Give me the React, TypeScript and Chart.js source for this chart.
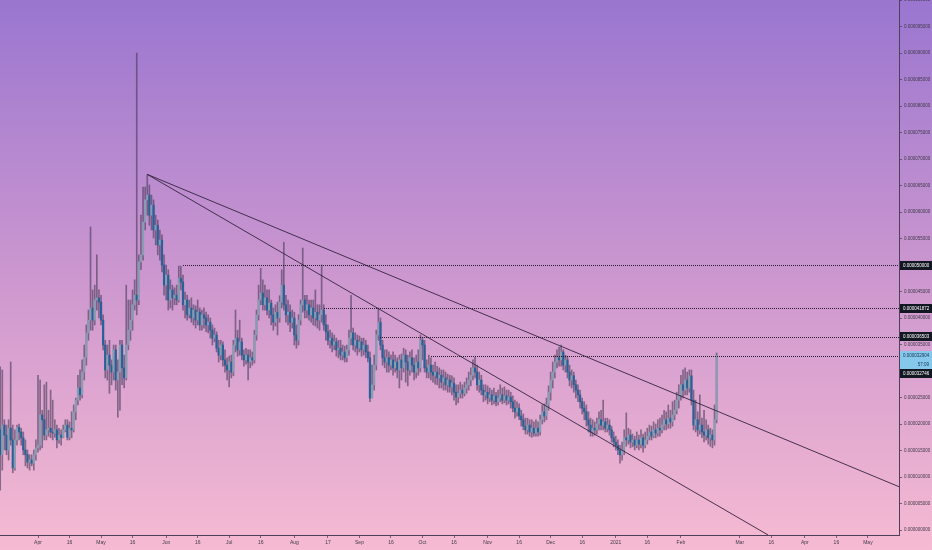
import { useEffect, useRef } from "react";
import { Chart, registerables } from "chart.js";

Chart.register(...registerables);

// Daily candles, first candle = 2020-03-14 (day -18 relative to 2020-04-01). Prices in units of 1e-6.
const firstDayOffset = -18;

const opens = [
  18.9, 14.2, 19.8, 17.9, 15.1, 19.2, 17.0, 11.7, 17.0, 19.4,
  18.5, 17.4, 15.1, 14.2, 12.8, 13.2, 12.6, 14.2, 15.5, 16.0,
  21.7, 20.8, 17.9, 18.9, 19.2, 18.5, 18.3, 18.9, 17.0, 17.9,
  17.5, 18.9, 19.8, 17.5, 19.2, 18.9, 22.3, 24.5, 26.8, 25.5,
  29.8, 32.6, 37.2, 39.6, 41.9, 39.6, 43.4, 43.8, 43.0, 39.6,
  34.9, 30.2, 33.0, 31.1, 29.8, 34.0, 28.3, 29.8, 34.9, 30.6,
  28.7, 34.9, 37.7, 39.6, 42.5, 44.3, 43.4, 50.6, 51.9, 58.1,
  62.3, 63.2, 59.4, 61.3, 56.6, 57.5, 53.8, 54.7, 50.0, 46.2,
  48.1, 43.4, 45.3, 43.8, 44.3, 43.4, 47.5, 46.8, 42.5, 43.4,
  40.6, 41.9, 40.0, 41.5, 39.6, 41.1, 38.7, 40.6, 40.0, 38.7,
  39.2, 37.7, 36.2, 36.8, 34.3, 33.0, 34.9, 32.1, 31.1, 30.2,
  31.7, 29.8, 34.9, 36.2, 34.0, 35.5, 33.0, 32.1, 33.0, 31.7,
  32.5, 32.1, 36.8, 40.6, 43.4, 44.7, 42.5, 43.8, 41.5, 42.8,
  40.6, 39.2, 41.1, 40.0, 43.0, 46.2, 42.5, 40.6, 41.1, 39.2,
  40.0, 36.8, 35.8, 39.6, 42.5, 43.4, 41.5, 42.5, 40.6, 41.9,
  40.0, 41.1, 39.6, 40.6, 41.5, 38.7, 37.4, 35.8, 36.2, 34.9,
  35.5, 34.0, 34.3, 33.0, 33.6, 32.5, 34.0, 36.2, 37.2, 34.9,
  35.8, 34.3, 35.5, 34.0, 34.9, 33.6, 32.5, 24.9, 27.4, 31.1,
  36.8, 39.2, 34.9, 32.5, 31.7, 32.5, 31.1, 32.1, 30.6, 31.7,
  30.2, 32.1, 30.6, 33.0, 31.7, 30.2, 32.5, 31.1, 29.8, 31.7,
  30.6, 35.8, 34.9, 30.6, 29.8, 31.1, 29.8, 29.2, 29.8, 28.7,
  29.2, 27.9, 28.7, 27.4, 28.3, 27.0, 27.7, 26.0, 25.1, 25.8,
  26.4, 25.8, 26.8, 27.4, 28.3, 29.2, 30.6, 29.8, 27.4, 28.3,
  26.4, 25.5, 26.0, 24.9, 25.5, 24.5, 25.3, 24.2, 24.9, 25.5,
  24.5, 25.3, 24.5, 25.1, 24.2, 23.0, 22.3, 23.0, 21.5, 20.8,
  19.6, 18.9, 19.8, 18.5, 19.2, 18.3, 19.2, 18.5, 20.8, 22.3,
  21.5, 23.6, 26.0, 28.3, 29.8, 31.7, 32.5, 32.1, 33.6, 31.1,
  32.1, 29.8, 28.3, 29.1, 27.4, 26.4, 25.5, 24.2, 23.0, 22.3,
  20.8, 19.8, 18.5, 19.2, 18.9, 20.0, 20.8, 19.8, 20.4, 19.2,
  19.8, 18.9, 17.4, 16.6, 16.0, 15.1, 14.2, 15.1, 17.4, 17.0,
  17.9, 16.6, 17.0, 16.0, 17.0, 16.2, 17.4, 16.0, 17.0, 17.7,
  18.5, 17.7, 18.9, 18.3, 19.2, 18.9, 19.8, 20.8, 20.0, 21.1,
  20.4, 21.7, 22.6, 24.5, 25.5, 27.4, 26.4, 28.3, 26.8, 29.1,
  24.5, 19.8, 20.8, 18.9, 19.8, 18.5, 17.9, 18.9, 17.4, 17.9,
  17.0, 20.8,
];

const highs = [
  30.8, 30.2, 20.8, 19.8, 20.8, 31.7, 19.8, 18.9, 19.8, 20.0,
  19.2, 18.5, 17.0, 15.1, 14.2, 14.2, 15.1, 17.0, 29.2, 28.3,
  22.6, 27.4, 27.9, 22.6, 26.4, 24.5, 20.8, 19.8, 19.2, 18.9,
  19.8, 20.8, 20.8, 20.4, 22.3, 23.6, 24.9, 29.2, 30.2, 32.1,
  34.9, 38.7, 41.5, 57.2, 45.3, 46.2, 51.9, 45.3, 44.3, 40.6,
  35.8, 34.9, 35.8, 32.1, 34.9, 34.9, 32.1, 35.8, 35.8, 33.0,
  46.2, 43.4, 43.4, 45.3, 47.2, 90.0, 51.9, 59.4, 64.7, 64.7,
  67.0, 65.1, 63.2, 62.3, 59.4, 58.5, 56.6, 55.7, 51.9, 50.0,
  49.1, 47.2, 46.2, 45.7, 46.2, 49.8, 49.8, 48.1, 44.9, 44.3,
  43.4, 43.8, 42.5, 42.3, 43.4, 41.9, 41.5, 41.9, 41.1, 40.6,
  40.0, 38.7, 38.1, 37.4, 35.8, 35.8, 35.5, 34.0, 32.5, 32.8,
  33.0, 35.8, 41.5, 37.7, 39.6, 36.2, 34.0, 34.3, 34.0, 34.0,
  33.6, 37.7, 41.5, 46.2, 49.4, 47.2, 46.2, 45.3, 45.3, 43.4,
  41.9, 42.5, 43.0, 44.2, 49.1, 54.3, 44.3, 43.4, 42.5, 41.5,
  41.1, 38.7, 40.6, 43.4, 53.2, 44.3, 44.3, 43.4, 43.4, 43.4,
  45.3, 42.5, 42.5, 50.0, 42.5, 40.6, 38.7, 37.7, 37.2, 36.8,
  36.2, 35.8, 35.8, 34.9, 34.7, 34.9, 37.7, 44.3, 38.1, 37.2,
  36.8, 36.6, 36.2, 36.2, 35.8, 34.9, 33.6, 31.1, 33.0, 37.7,
  41.9, 40.0, 35.8, 34.0, 34.0, 33.6, 33.0, 33.6, 33.0, 32.5,
  33.0, 33.2, 34.3, 34.0, 33.0, 33.6, 34.0, 32.5, 33.0, 34.0,
  36.8, 36.4, 35.8, 32.1, 33.0, 32.5, 31.1, 31.7, 30.9, 30.6,
  30.2, 30.2, 29.8, 29.4, 29.2, 29.1, 28.7, 27.4, 27.4, 27.9,
  27.4, 27.9, 28.7, 29.8, 30.6, 32.1, 32.6, 31.1, 29.8, 29.2,
  27.4, 27.4, 27.2, 26.8, 26.4, 26.8, 26.0, 26.4, 27.4, 26.8,
  27.0, 26.4, 26.4, 26.0, 25.3, 24.5, 24.2, 23.8, 22.6, 21.9,
  21.1, 21.1, 20.8, 20.8, 20.4, 20.8, 20.4, 21.7, 23.6, 23.8,
  24.9, 27.2, 29.8, 31.7, 33.0, 34.0, 34.5, 34.9, 34.0, 33.0,
  32.8, 31.1, 30.2, 29.8, 28.3, 27.4, 26.4, 24.9, 24.2, 23.6,
  22.3, 21.1, 20.8, 20.4, 21.1, 22.3, 22.6, 24.5, 21.1, 21.1,
  20.8, 19.6, 18.5, 17.7, 17.0, 16.0, 16.6, 18.9, 22.1, 19.2,
  18.9, 18.1, 17.7, 18.5, 17.9, 18.9, 18.1, 18.5, 19.2, 19.8,
  19.6, 20.4, 20.0, 20.8, 21.1, 21.7, 22.6, 22.3, 23.6, 22.6,
  24.2, 24.5, 26.0, 27.4, 29.2, 30.2, 30.6, 29.8, 30.2, 30.2,
  26.4, 24.5, 22.3, 25.5, 21.1, 22.6, 20.8, 19.8, 19.2, 18.9,
  23.6, 33.4,
];

const lows = [
  7.5, 11.3, 15.1, 14.2, 13.2, 16.0, 10.8, 11.3, 16.0, 17.0,
  16.0, 14.2, 12.1, 11.7, 11.3, 12.1, 11.3, 13.2, 14.7, 15.1,
  15.5, 17.0, 17.0, 17.7, 17.4, 17.0, 17.5, 15.5, 16.4, 16.0,
  17.4, 18.5, 17.0, 17.0, 17.4, 18.5, 20.8, 23.6, 24.5, 24.9,
  28.3, 31.1, 35.8, 37.7, 37.7, 38.7, 41.5, 40.0, 38.7, 34.0,
  28.7, 28.3, 25.8, 27.4, 28.3, 26.4, 21.3, 22.6, 27.4, 26.8,
  28.3, 34.0, 35.8, 37.7, 41.5, 40.6, 42.5, 49.1, 50.9, 56.6,
  59.4, 57.5, 56.6, 55.1, 53.8, 51.9, 50.9, 48.7, 44.3, 43.4,
  41.5, 41.9, 41.5, 42.5, 42.5, 43.0, 45.3, 41.5, 40.0, 39.6,
  40.0, 39.2, 38.7, 38.1, 38.7, 37.7, 37.7, 38.1, 37.4, 37.2,
  36.2, 34.9, 35.5, 33.6, 31.7, 32.1, 30.9, 29.8, 28.3, 27.0,
  28.7, 29.1, 33.6, 32.8, 33.0, 32.1, 30.9, 31.3, 28.3, 30.6,
  31.1, 31.5, 35.8, 39.6, 42.5, 41.5, 41.5, 40.6, 40.0, 38.7,
  37.7, 38.5, 36.8, 39.2, 41.9, 41.5, 39.2, 38.7, 37.4, 38.1,
  34.9, 34.3, 34.9, 38.7, 41.1, 40.0, 40.0, 39.6, 39.2, 38.7,
  38.5, 38.1, 37.7, 39.2, 37.7, 35.8, 34.9, 34.3, 33.6, 34.0,
  32.8, 32.5, 32.1, 32.1, 31.7, 31.7, 33.0, 34.9, 34.0, 33.6,
  33.0, 33.6, 32.8, 33.0, 32.5, 31.7, 24.2, 24.9, 26.4, 30.2,
  35.8, 34.0, 31.1, 30.6, 29.8, 29.8, 30.2, 29.2, 29.8, 28.7,
  26.8, 28.3, 29.8, 27.9, 27.2, 29.2, 29.8, 28.3, 28.7, 29.2,
  29.8, 32.1, 29.8, 28.7, 28.7, 28.3, 27.9, 27.5, 27.4, 26.8,
  26.8, 26.4, 26.4, 26.0, 26.0, 25.5, 24.5, 23.6, 24.0, 24.9,
  24.9, 25.3, 25.8, 26.4, 27.2, 28.3, 28.7, 26.4, 26.0, 25.5,
  24.2, 24.5, 23.8, 24.2, 23.6, 23.8, 23.4, 23.6, 24.2, 23.8,
  24.0, 23.6, 23.8, 23.0, 22.3, 21.1, 21.5, 20.8, 19.6, 18.9,
  18.1, 18.1, 17.7, 17.5, 17.7, 17.7, 17.7, 17.9, 20.0, 20.4,
  20.8, 22.6, 24.5, 26.8, 28.7, 30.6, 30.9, 30.9, 30.2, 29.8,
  28.7, 27.2, 26.8, 26.0, 24.9, 24.2, 23.0, 21.9, 20.8, 19.6,
  18.5, 17.7, 17.7, 17.9, 18.1, 18.9, 18.9, 18.9, 18.5, 18.5,
  17.9, 16.6, 15.7, 15.1, 14.2, 12.6, 13.2, 14.2, 15.8, 16.2,
  15.5, 15.7, 15.1, 15.5, 15.1, 15.5, 14.7, 15.5, 16.2, 17.0,
  17.0, 17.4, 17.4, 17.7, 17.7, 18.3, 18.9, 18.9, 19.2, 19.2,
  19.6, 20.8, 21.9, 23.0, 24.5, 24.9, 25.5, 25.5, 26.0, 23.6,
  18.9, 18.5, 17.7, 18.1, 17.4, 16.6, 17.0, 16.2, 15.8, 15.5,
  16.0, 20.2,
];

const closes = [
  14.2, 19.8, 17.9, 15.1, 19.2, 17.0, 11.7, 17.0, 19.4, 18.5,
  17.4, 15.1, 14.2, 12.8, 13.2, 12.6, 14.2, 15.5, 16.0, 21.7,
  20.8, 17.9, 18.9, 19.2, 18.5, 18.3, 18.9, 17.0, 17.9, 17.5,
  18.9, 19.8, 17.5, 19.2, 18.9, 22.3, 24.5, 26.8, 25.5, 29.8,
  32.6, 37.2, 39.6, 41.9, 39.6, 43.4, 43.8, 43.0, 39.6, 34.9,
  30.2, 33.0, 31.1, 29.8, 34.0, 28.3, 29.8, 34.9, 30.6, 28.7,
  34.9, 37.7, 39.6, 42.5, 44.3, 43.4, 50.6, 51.9, 58.1, 62.3,
  63.2, 59.4, 61.3, 56.6, 57.5, 53.8, 54.7, 50.0, 46.2, 48.1,
  43.4, 45.3, 43.8, 44.3, 43.4, 47.5, 46.8, 42.5, 43.4, 40.6,
  41.9, 40.0, 41.5, 39.6, 41.1, 38.7, 40.6, 40.0, 38.7, 39.2,
  37.7, 36.2, 36.8, 34.3, 33.0, 34.9, 32.1, 31.1, 30.2, 31.7,
  29.8, 34.9, 36.2, 34.0, 35.5, 33.0, 32.1, 33.0, 31.7, 32.5,
  32.1, 36.8, 40.6, 43.4, 44.7, 42.5, 43.8, 41.5, 42.8, 40.6,
  39.2, 41.1, 40.0, 43.0, 46.2, 42.5, 40.6, 41.1, 39.2, 40.0,
  36.8, 35.8, 39.6, 42.5, 43.4, 41.5, 42.5, 40.6, 41.9, 40.0,
  41.1, 39.6, 40.6, 41.5, 38.7, 37.4, 35.8, 36.2, 34.9, 35.5,
  34.0, 34.3, 33.0, 33.6, 32.5, 34.0, 36.2, 37.2, 34.9, 35.8,
  34.3, 35.5, 34.0, 34.9, 33.6, 32.5, 24.9, 27.4, 31.1, 36.8,
  39.2, 34.9, 32.5, 31.7, 32.5, 31.1, 32.1, 30.6, 31.7, 30.2,
  32.1, 30.6, 33.0, 31.7, 30.2, 32.5, 31.1, 29.8, 31.7, 30.6,
  35.8, 34.9, 30.6, 29.8, 31.1, 29.8, 29.2, 29.8, 28.7, 29.2,
  27.9, 28.7, 27.4, 28.3, 27.0, 27.7, 26.0, 25.1, 25.8, 26.4,
  25.8, 26.8, 27.4, 28.3, 29.2, 30.6, 29.8, 27.4, 28.3, 26.4,
  25.5, 26.0, 24.9, 25.5, 24.5, 25.3, 24.2, 24.9, 25.5, 24.5,
  25.3, 24.5, 25.1, 24.2, 23.0, 22.3, 23.0, 21.5, 20.8, 19.6,
  18.9, 19.8, 18.5, 19.2, 18.3, 19.2, 18.5, 20.8, 22.3, 21.5,
  23.6, 26.0, 28.3, 29.8, 31.7, 32.5, 32.1, 33.6, 31.1, 32.1,
  29.8, 28.3, 29.1, 27.4, 26.4, 25.5, 24.2, 23.0, 22.3, 20.8,
  19.8, 18.5, 19.2, 18.9, 20.0, 20.8, 19.8, 20.4, 19.2, 19.8,
  18.9, 17.4, 16.6, 16.0, 15.1, 14.2, 15.1, 17.4, 17.0, 17.9,
  16.6, 17.0, 16.0, 17.0, 16.2, 17.4, 16.0, 17.0, 17.7, 18.5,
  17.7, 18.9, 18.3, 19.2, 18.9, 19.8, 20.8, 20.0, 21.1, 20.4,
  21.7, 22.6, 24.5, 25.5, 27.4, 26.4, 28.3, 26.8, 29.1, 24.5,
  19.8, 20.8, 18.9, 19.8, 18.5, 17.9, 18.9, 17.4, 17.9, 17.0,
  20.8, 32.904,
];

// x axis: days since 2020-04-01
const timeTickDays = [0, 15, 30, 45, 61, 76, 91, 106, 122, 138, 153, 168, 183, 198, 214, 229, 244, 259, 275, 290, 306, 334, 349, 365, 380, 395];
const timeTickLabels = ["Apr", "16", "May", "16", "Jun", "16", "Jul", "16", "Aug", "17", "Sep", "16", "Oct", "16", "Nov", "16", "Dec", "16", "2021", "16", "Feb", "Mar", "16", "Apr", "16", "May"];
const xMinDay = -18.09;
const xMaxDay = 409.8;

const priceTicks = [0, 5, 10, 15, 20, 25, 30, 35, 40, 45, 50, 55, 60, 65, 70, 75, 80, 85, 90, 95, 100];
const yMin = -0.94;
const yMax = 100;

// horizontal levels (dotted) and where they start
const levelValues = [50.0, 41.872, 36.503, 32.904];
const levelStartDays = [69, 136, 163, 187];
const lastPrice = 32.904;
const prevClose = 32.746;
const countdownText = "57:09";

// trend lines (day, price)
const upperTrendDays = [52, 409.8];
const upperTrendPrices = [67.1, 8.17];
const lowerTrendDays = [52, 347.5];
const lowerTrendPrices = [67.1, -0.94];

const UP_BODY = "rgba(138,158,180,0.95)";
const DOWN_BODY = "rgba(40,96,150,0.97)";
const WICK = "rgba(72,60,92,0.62)";
const LINE = "rgba(52,36,64,0.9)";
const FONT = "'Liberation Sans', Arial, sans-serif";

const fmt = (v: number) => (v / 1e6).toFixed(9);

const bgPlugin = {
  id: "bgGradient",
  beforeDraw(chart: any) {
    const { ctx, width, height } = chart;
    const g = ctx.createLinearGradient(0, 0, 0, height);
    g.addColorStop(0, "#9a76d0");
    g.addColorStop(0.5, "#cc97cf");
    g.addColorStop(1, "#f6bad2");
    ctx.save();
    ctx.fillStyle = g;
    ctx.fillRect(0, 0, width, height);
    ctx.restore();
  },
};

const levelPlugin = {
  id: "levelLines",
  afterDatasetsDraw(chart: any) {
    const { ctx, chartArea } = chart;
    const xs = chart.scales.x;
    const ys = chart.scales.y;
    ctx.save();
    ctx.strokeStyle = "rgba(30,22,40,0.95)";
    ctx.lineWidth = 1;
    ctx.setLineDash([1, 1]);
    levelValues.forEach((v, k) => {
      const y = Math.round(ys.getPixelForValue(v)) + 0.5;
      const x0 = Math.round(xs.getPixelForValue(levelStartDays[k]));
      ctx.beginPath();
      ctx.moveTo(x0, y);
      ctx.lineTo(chartArea.right, y);
      ctx.stroke();
    });
    ctx.restore();
  },
};

const labelPlugin = {
  id: "priceLabels",
  afterDraw(chart: any) {
    const { ctx } = chart;
    const ys = chart.scales.y;
    const left = ys.left;
    const right = chart.width;
    const h = 9;
    const box = (cy: number, bg: string, fg: string, text: string, alignRight = false) => {
      const top = Math.round(cy - h / 2);
      ctx.fillStyle = bg;
      ctx.fillRect(left + 1, top, right - left - 1, h);
      ctx.fillStyle = fg;
      ctx.font = `4.5px ${FONT}`;
      ctx.textBaseline = "middle";
      if (alignRight) {
        ctx.textAlign = "right";
        ctx.fillText(text, right - 3, top + h / 2);
      } else {
        ctx.textAlign = "left";
        ctx.fillText(text, left + 4, top + h / 2);
      }
    };
    ctx.save();
    levelValues.forEach((v) => {
      if (v === lastPrice) return;
      box(ys.getPixelForValue(v), "#131722", "#ffffff", fmt(v));
    });
    const py = ys.getPixelForValue(lastPrice);
    box(py, "#86c8ec", "#17324f", fmt(lastPrice));
    box(py + h, "#86c8ec", "#17324f", countdownText, true);
    const pp = Math.max(ys.getPixelForValue(prevClose), py + 2 * h);
    box(pp, "#131722", "#ffffff", fmt(prevClose));
    ctx.restore();
  },
};

export default function App() {
  const ref = useRef<HTMLCanvasElement | null>(null);

  useEffect(() => {
    document.body.style.margin = "0";
    const canvas = ref.current;
    if (!canvas) return;
    Chart.defaults.font.family = FONT;

    const xs = closes.map((_, i) => firstDayOffset + i);
    const bodyColors = closes.map((c, i) => (c >= opens[i] ? UP_BODY : DOWN_BODY));

    const wickData = xs.map((x, i) => ({ x, y: [lows[i], highs[i]] }));
    const bodyData = xs.map((x, i) => ({ x, y: [opens[i], closes[i]] }));

    const chart = new Chart(canvas, {
      type: "bar",
      data: {
        datasets: [
          {
            type: "line",
            data: upperTrendDays.map((d, k) => ({ x: d, y: upperTrendPrices[k] })),
            borderColor: LINE,
            borderWidth: 1,
            pointRadius: 0,
            fill: false,
            order: 0,
          } as any,
          {
            type: "line",
            data: lowerTrendDays.map((d, k) => ({ x: d, y: lowerTrendPrices[k] })),
            borderColor: LINE,
            borderWidth: 1,
            pointRadius: 0,
            fill: false,
            order: 0,
          } as any,
          {
            type: "bar",
            data: bodyData as any,
            backgroundColor: bodyColors,
            borderWidth: 0,
            barThickness: 1.6,
            grouped: false,
            order: 1,
          } as any,
          {
            type: "bar",
            data: wickData as any,
            backgroundColor: WICK,
            borderWidth: 0,
            barThickness: 1,
            grouped: false,
            order: 2,
          } as any,
        ],
      },
      options: {
        animation: false,
        responsive: true,
        maintainAspectRatio: false,
        events: [],
        layout: { padding: 0 },
        plugins: {
          legend: { display: false },
          tooltip: { enabled: false },
          title: { display: false },
        },
        scales: {
          x: {
            type: "linear",
            min: xMinDay,
            max: xMaxDay,
            offset: false,
            afterBuildTicks: (scale: any) => {
              scale.ticks = timeTickDays.map((v) => ({ value: v }));
            },
            afterFit: (scale: any) => {
              scale.height = 15;
              scale.paddingLeft = 0;
              scale.paddingRight = 0;
            },
            ticks: {
              autoSkip: false,
              maxRotation: 0,
              minRotation: 0,
              padding: 2,
              color: "#3f3a48",
              font: { size: 5 },
              callback: (value: any) => {
                const k = timeTickDays.indexOf(Number(value));
                return k >= 0 ? timeTickLabels[k] : "";
              },
            },
            grid: {
              display: true,
              drawOnChartArea: false,
              drawTicks: true,
              tickLength: 3,
              color: "rgba(70,58,82,0.7)",
              offset: false,
            },
            border: { display: true, color: "#4d3f5a", width: 1 },
          },
          y: {
            type: "linear",
            position: "right",
            min: yMin,
            max: yMax,
            afterBuildTicks: (scale: any) => {
              scale.ticks = priceTicks.map((v) => ({ value: v }));
            },
            afterFit: (scale: any) => {
              scale.width = 33;
              scale.paddingTop = 0;
              scale.paddingBottom = 0;
            },
            ticks: {
              autoSkip: false,
              padding: 2,
              color: "#3f3a48",
              font: { size: 4.5 },
              callback: (value: any) => fmt(Number(value)),
            },
            grid: {
              display: true,
              drawOnChartArea: false,
              drawTicks: true,
              tickLength: 3,
              color: "rgba(70,58,82,0.7)",
            },
            border: { display: true, color: "#4d3f5a", width: 1 },
          },
        },
      } as any,
      plugins: [bgPlugin, levelPlugin, labelPlugin],
    });

    return () => chart.destroy();
  }, []);

  return (
    <div style={{ width: 932, height: 550, position: "relative" }}>
      <canvas ref={ref} />
    </div>
  );
}
